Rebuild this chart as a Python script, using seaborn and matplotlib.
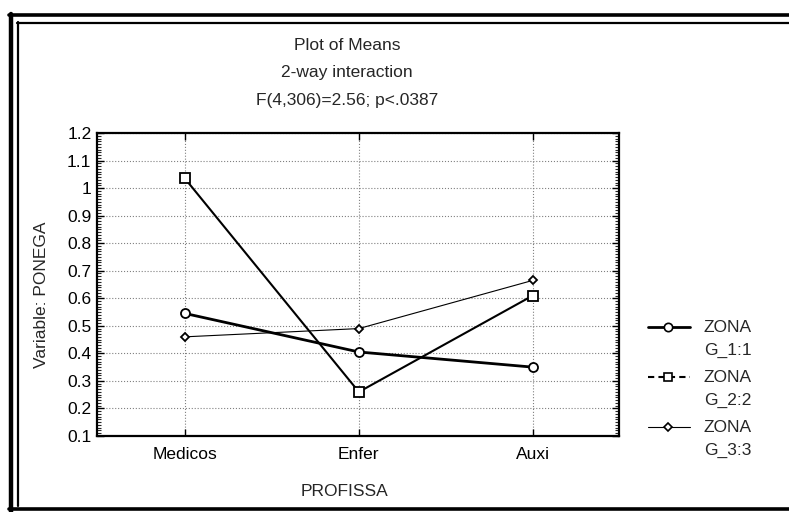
import matplotlib
matplotlib.use("Agg")
import matplotlib.pyplot as plt
import seaborn as sns
from matplotlib.lines import Line2D
from matplotlib.ticker import MultipleLocator, FuncFormatter

# ---- data ----
categories = ["Medicos", "Enfer", "Auxi"]
zona1 = [0.545, 0.405, 0.350]
zona2 = [1.035, 0.260, 0.610]
zona3 = [0.460, 0.490, 0.665]
legend_labels = ["ZONA\nG_1:1", "ZONA\nG_2:2", "ZONA\nG_3:3"]
title_lines = ["Plot of Means", "2-way interaction", "F(4,306)=2.56; p<.0387"]
xlabel = "PROFISSA"
ylabel = "Variable: PONEGA"

W, H = 789, 512
sns.set_theme(style="white")
plt.rcParams['font.family'] = ['Liberation Sans', 'DejaVu Sans']
FS = 12.5

fig = plt.figure(figsize=(W / 100, H / 100), dpi=100)
fig.patch.set_facecolor("white")


def fx(px):
    return px / W


def fy(py):
    return 1 - py / H


ax = fig.add_axes([fx(97), fy(436), fx(619) - fx(97), fy(133) - fy(436)])
ax.set_facecolor("white")

styles = [
    dict(marker='o', markersize=6.5, linewidth=2.0),
    dict(marker='s', markersize=6.5, linewidth=1.5),
    dict(marker='D', markersize=4.5, linewidth=0.8),
]
for vals, st in zip([zona1, zona2, zona3], styles):
    sns.lineplot(x=categories, y=vals, ax=ax, sort=False, color='black',
                 marker=st['marker'], markersize=st['markersize'],
                 linewidth=st['linewidth'], markerfacecolor='white',
                 markeredgecolor='black', markeredgewidth=1.3, legend=False,
                 zorder=3)

ax.set_xlim(-0.505, 2.495)
ax.set_ylim(0.1, 1.2)
ax.set_xlabel("")
ax.set_ylabel("")
ax.yaxis.set_major_locator(MultipleLocator(0.1))
ax.yaxis.set_minor_locator(MultipleLocator(0.01))


def yfmt(v, pos):
    s = f"{v:.1f}"
    if s.endswith(".0"):
        s = s[:-2]
    return s


ax.yaxis.set_major_formatter(FuncFormatter(yfmt))
ax.tick_params(axis='both', which='major', direction='in', length=5, width=1,
               labelsize=FS, colors='black', left=True, right=True, top=True,
               bottom=True, pad=4)
ax.tick_params(axis='y', which='minor', direction='in', length=3, width=0.8,
               left=True, right=True)
ax.tick_params(axis='x', pad=8)
ax.grid(True, which='major', linestyle=':', color='#808080', linewidth=0.8)
for sp in ax.spines.values():
    sp.set_color('black')
    sp.set_linewidth(1.6)
    sp.set_visible(True)

# titles and labels
for txt, yy in zip(title_lines, [46, 73, 100]):
    fig.text(fx(347), fy(yy), txt, ha='center', va='center', fontsize=FS)
fig.text(fx(345), fy(491), xlabel, ha='center', va='center', fontsize=FS)
fig.text(fx(42), fy(295), ylabel, ha='center', va='center', rotation=90,
         fontsize=FS)

# legend (manual)
leg_rows = [327, 377, 427]
leg_dash = ['-', (0, (3, 2)), '-']
for (lab, yy, st, ls) in zip(legend_labels, leg_rows, styles, leg_dash):
    fig.add_artist(Line2D([fx(648), fx(690)], [fy(yy), fy(yy)],
                          transform=fig.transFigure, color='black',
                          linewidth=st['linewidth'], linestyle=ls))
    fig.add_artist(Line2D([fx(668)], [fy(yy)], transform=fig.transFigure,
                          marker=st['marker'], markersize=st['markersize'] - 0.5,
                          markerfacecolor='white', markeredgecolor='black',
                          markeredgewidth=1.2, linestyle='none'))
    l1, l2 = lab.split("\n")
    fig.text(fx(704), fy(yy), l1, ha='left', va='center', fontsize=FS)
    fig.text(fx(704), fy(yy + 23), l2, ha='left', va='center', fontsize=FS)


# page frame (double border)
def hline(y, x0, x1, lw):
    fig.add_artist(Line2D([fx(x0), fx(x1)], [fy(y), fy(y)],
                          transform=fig.transFigure, color='black', linewidth=lw))


def vline(x, y0, y1, lw):
    fig.add_artist(Line2D([fx(x), fx(x)], [fy(y0), fy(y1)],
                          transform=fig.transFigure, color='black', linewidth=lw))


hline(15, 9, 800, 2.6)
vline(10.5, 14, 512, 3.2)
hline(23, 17, 800, 1.6)
vline(18, 22, 506, 1.6)
hline(509, 9, 800, 2.6)

fig.savefig("out.png", dpi=100, facecolor='white')
